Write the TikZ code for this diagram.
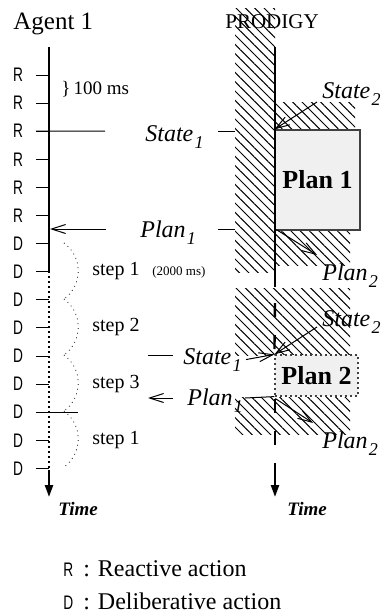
\documentclass[tikz,border=0pt]{standalone}
\usepackage{fontspec}
\setmainfont{Liberation Serif}
\newfontfamily\actfont[FakeStretch=0.7]{Liberation Sans}
\usetikzlibrary{arrows.meta,patterns.meta}

% italic label with a lowered index, e.g. State_1
\newcommand{\idx}[2]{\textit{#1}\kern0.6pt\raisebox{-3.5pt}{\fontsize{9}{9}\selectfont\textit{#2}}}

\tikzstyle{timeline} = [line width=1.2pt]
\tikzstyle{tickline} = [line width=0.5pt]
\tikzstyle{busy} = [pattern={Lines[angle=-45, distance=3.3pt, line width=0.5pt]}]
\tikzstyle{planbox} = [fill=gray!12, draw=black!75, line width=0.6pt, inner sep=0pt, font=\fontsize{13}{15}\selectfont\bfseries]
\tikzstyle{act} = [font=\actfont\fontsize{9.8}{10}\selectfont, inner sep=0pt]
\tikzstyle{msg} = [font=\fontsize{12}{14}\selectfont, inner sep=0pt, anchor=base west]
\tikzstyle{steptext} = [font=\fontsize{10}{12}\selectfont, inner sep=0pt, anchor=west]
\tikzstyle{barb} = [line width=0.5pt, -{Straight Barb[length=7pt,width=4.5pt]}]
\tikzstyle{timearrow} = [line width=1.2pt, -{Triangle[length=6pt,width=4pt]}]
\tikzstyle{timetext} = [font=\fontsize{9.5}{11}\selectfont\bfseries\itshape, inner sep=0pt, anchor=base west]

\begin{document}
\begin{tikzpicture}[x=0.5pt,y=-0.5pt]
\useasboundingbox (0,0) rectangle (383,612);

% PRODIGY busy periods
\fill[busy] (235,8) rectangle (275,272);
\fill[busy] (275,102) rectangle (355,130);
\fill[busy] (275,230) rectangle (350,265);
\fill[busy] (235,288) rectangle (350,355);
\fill[busy] (235,397) rectangle (350,434);

% headers
\node[anchor=base west, inner sep=0pt, font=\fontsize{12.5}{14}\selectfont] (agent) at (13,29) {Agent 1};
\node[anchor=base west, inner sep=0pt, font=\fontsize{10.5}{12}\selectfont] (prodigy) at (225,28) {PRODIGY};

% Agent 1 time line
\coordinate (atop) at (49,47);
\coordinate (amid) at (49,271);
\coordinate (alow) at (49,470);
\coordinate (aend) at (49,497);
\draw[timeline] (atop) -- (amid);
\draw[line width=1pt, dash pattern=on 1pt off 1.5pt] (amid) -- (alow);
\draw[timearrow] (alow) -- (aend);

% actions, one every 100 ms
\foreach \k in {0,...,14}{
  \coordinate (tk\k) at (49,75+28.1*\k);
  \draw[tickline] (tk\k) -- ++(-13,0);
}
\foreach \k in {0,...,5}
  \node[act] (act\k) at (18,75+28.1*\k) {R};
\foreach \k in {6,...,14}
  \node[act] (act\k) at (18,75+28.1*\k) {D};
\node[steptext, font=\fontsize{9.5}{11}\selectfont] (period) at (61,89) {\}\,100 ms};

% State_1 out, Plan_1 back
\coordinate (s1out) at (105,131);
\coordinate (p1out) at (106,229);
\coordinate (p1in) at (50,229);
\draw[tickline] (tk2) ++(-13,0) -- (s1out);
\draw[barb] (p1out) -- (p1in);
\draw[tickline] (tk12) ++(-13,0) -- ++(42,0);

% deliberation steps
\foreach \a in {243,299,355,411}
  \draw[dotted, line width=0.4pt] (64,\a) .. controls (83,\a+14) and (83,\a+42) .. (64,\a+56);
\node[steptext] (st1) at (92,271) {step 1};
\node[steptext, font=\fontsize{6.5}{8}\selectfont] (dur) at (152,272) {(2000 ms)};
\node[steptext] (st2) at (92,327) {step 2};
\node[steptext] (st3) at (92,384) {step 3};
\node[steptext] (st4) at (92,440) {step 1};

% plans
\node[planbox, minimum width=42.5pt, minimum height=50pt] (plan1box) at (317.5,180) {Plan 1};
\node[planbox, dash pattern=on 1pt off 1.5pt, minimum width=41.5pt, minimum height=20.5pt] (plan2box) at (316.5,375.5) {Plan 2};

% PRODIGY time line
\coordinate (ptop) at (275,47);
\coordinate (pmid) at (275,287);
\coordinate (pdash) at (275,303);
\coordinate (plow) at (275,463);
\coordinate (pend) at (275,497);
\draw[timeline] (ptop) -- (pmid);
\draw[timeline, dash pattern=on 7pt off 9pt] (pdash) -- (plan2box.north west);
\draw[timeline, dash pattern=on 7pt off 9pt] (275,399) -- (275,447);
\draw[timearrow] (plow) -- (pend);

% messages between the agent and PRODIGY
\node[msg] (state1a) at (145,141) {\idx{State}{1}};
\node[msg] (plan1a) at (140,237) {\idx{Plan}{1}};
\node[msg] (state2a) at (322,98) {\idx{State}{2}};
\node[msg] (plan2a) at (322,280) {\idx{Plan}{2}};
\node[msg] (state2b) at (322,326) {\idx{State}{2}};
\node[msg] (state1b) at (183,364) {\idx{State}{1}};
\node[msg] (plan1b) at (187,405) {\idx{Plan}{1}};
\node[msg] (plan2b) at (322,448) {\idx{Plan}{2}};

\coordinate (s1stub) at (218,131);
\coordinate (s1edge) at (235,131);
\coordinate (p1stub) at (218,229);
\coordinate (p1edge) at (235,229);
\draw[tickline] (s1stub) -- (s1edge);
\draw[tickline] (p1stub) -- (p1edge);
\draw[barb] ([shift={(-5,4)}]state2a.base west) -- (plan1box.north west);
\draw[barb] ([shift={(2,-1)}]plan1box.south west) -- ([shift={(-5,-25)}]plan2a.base west);
\draw[barb] ([shift={(-5,1)}]state2b.base west) -- (plan2box.north west);
\draw[barb] ([shift={(4,0)}]state1b.east) -- (plan2box.north west);
\coordinate (s1bin) at (148,355);
\draw[tickline] (s1bin) -- ++(25,0);
\coordinate (p1bout) at (173,398);
\draw[barb] (p1bout) -- ++(-25,0);
\coordinate (p1bstub) at (245,398);
\draw[tickline] (p1bstub) -- (plan2box.south west);
\draw[barb] ([shift={(1,2)}]plan2box.south west) -- ([shift={(-9,-25)}]plan2b.base west);

% time labels
\node[timetext] (time1) at (58,515) {Time};
\node[timetext] (time2) at (287,515) {Time};

% key
\node[anchor=base west, inner sep=0pt, font=\fontsize{12}{14}\selectfont] (keyr) at (63,576)
  {{\actfont\fontsize{9.8}{10}\selectfont R}\hspace{5pt}:\hspace{4pt}Reactive action};
\node[anchor=base west, inner sep=0pt, font=\fontsize{12}{14}\selectfont] (keyd) at (63,609)
  {{\actfont\fontsize{9.8}{10}\selectfont D}\hspace{5pt}:\hspace{4pt}Deliberative action};
\end{tikzpicture}
\end{document}
